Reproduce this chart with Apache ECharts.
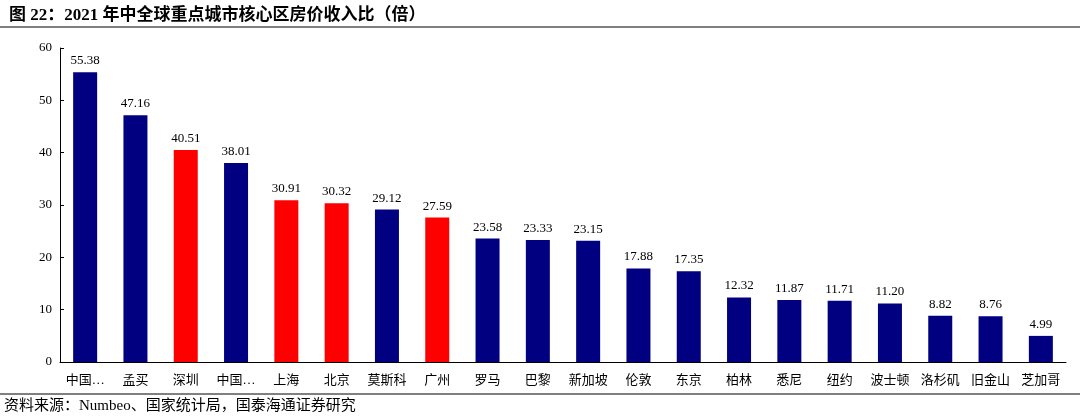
<!DOCTYPE html>
<html>
<head>
<meta charset="utf-8">
<script src="https://cdn.jsdelivr.net/npm/echarts@6/dist/echarts.min.js"></script>
<style>
  body { margin: 0; background: #fff; }
  #chart { width: 1080px; height: 420px; }
</style>
</head>
<body>
<div id="chart"></div>
<script>
// 城市与房价收入比
const cities = ['中国…', '孟买', '深圳', '中国…', '上海', '北京', '莫斯科', '广州', '罗马', '巴黎',
  '新加坡', '伦敦', '东京', '柏林', '悉尼', '纽约', '波士顿', '洛杉矶', '旧金山', '芝加哥']
const ratios = [55.38, 47.16, 40.51, 38.01, 30.91, 30.32, 29.12, 27.59, 23.58, 23.33,
  23.15, 17.88, 17.35, 12.32, 11.87, 11.71, 11.20, 8.82, 8.76, 4.99]
const redCities = ['深圳', '上海', '北京', '广州']

const serif = '"Times New Roman", "Liberation Serif", "Noto Sans CJK SC", serif'
const myChart = echarts.init(document.getElementById('chart'))

let option = {
  animation: false,
  title: {
    text: '图 22：2021 年中全球重点城市核心区房价收入比（倍）',
    left: 4, top: 2,
    textStyle: { fontFamily: serif, fontSize: 17, fontWeight: 'bold', color: '#000' }
  },
  graphic: [
    { type: 'line', shape: { x1: 0, y1: 27, x2: 1080, y2: 27 }, style: { stroke: '#000', lineWidth: 1 } },
    { type: 'line', shape: { x1: 0, y1: 394, x2: 1080, y2: 394 }, style: { stroke: '#000', lineWidth: 1 } },
    { type: 'text', left: 4, top: 399,
      style: { text: '资料来源：Numbeo、国家统计局，国泰海通证券研究', font: '15px ' + serif, fill: '#000' } }
  ],
  grid: { left: 60, right: 14, top: 48, bottom: 58 },
  xAxis: {
    type: 'category',
    data: cities,
    axisTick: { show: false },
    axisLine: { lineStyle: { color: '#000' } },
    axisLabel: { color: '#000', fontSize: 13, fontFamily: serif, interval: 0, margin: 12 }
  },
  yAxis: {
    type: 'value',
    min: 0, max: 60, interval: 10,
    splitLine: { show: false },
    axisLine: { show: true, lineStyle: { color: '#000' } },
    axisTick: { show: true, inside: true, length: 4 },
    axisLabel: { color: '#000', fontSize: 13, fontFamily: serif }
  },
  series: [{
    type: 'bar',
    barWidth: 24,
    data: ratios.map((v, i) => ({
      value: v,
      itemStyle: { color: redCities.includes(cities[i]) ? '#FF0000' : '#000080' }
    })),
    label: {
      show: true, position: 'top', color: '#000', fontSize: 13, fontFamily: serif,
      formatter: p => p.value.toFixed(2)
    }
  }]
}

myChart.setOption(option)
</script>
</body>
</html>
